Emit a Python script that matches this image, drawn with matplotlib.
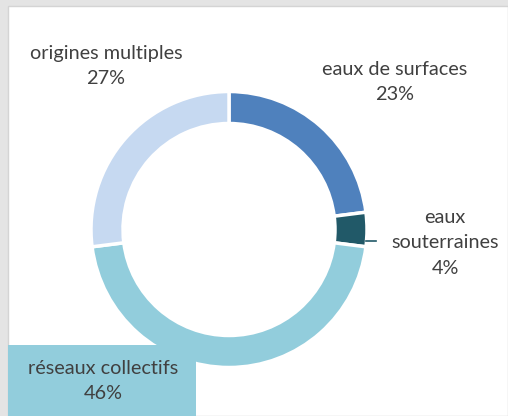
import matplotlib.pyplot as plt
from matplotlib.patches import Rectangle

# Données
categories = ["eaux de surfaces", "eaux\nsouterraines", "réseaux collectifs", "origines multiples"]
parts = [23, 4, 46, 27]
couleurs = ["#4F81BD", "#215968", "#92CDDC", "#C6D9F1"]

W, H = 508, 416
fig = plt.figure(figsize=(W / 100, H / 100), dpi=100, facecolor="#E4E4E4")
ax = fig.add_axes([0, 0, 1, 1])
ax.set_facecolor("#E4E4E4")

# fond blanc de la zone du graphique
ax.add_patch(Rectangle((8, 0), W - 8, H - 6, facecolor="white",
                       edgecolor="#D4D4D4", linewidth=1, zorder=0))

# anneau
cx, cy = 229, H - 229.5
ax.pie(parts, colors=couleurs, radius=138, center=(cx, cy), startangle=90,
       counterclock=False, frame=True,
       wedgeprops=dict(width=32, edgecolor="white", linewidth=2.5))

txt = dict(ha="center", va="center", fontsize=14.3, color="#404040",
           family=["Lato", "DejaVu Sans"], linespacing=1.6)

ax.text(106, H - 66, f"origines multiples\n{parts[3]}%", **txt)
ax.text(395, H - 82, f"eaux de surfaces\n{parts[0]}%", **txt)
ax.text(445, H - 243, f"{categories[1]}\n{parts[1]}%", **txt)

# trait de rappel
ax.plot([366, 376], [H - 241, H - 241], color="#215968", linewidth=1.2)

# étiquette avec fond pour réseaux collectifs
ax.add_patch(Rectangle((8, 0), 188, H - 345, facecolor="#92CDDC",
                       edgecolor="none", zorder=3))
ax.text(103, H - 381, f"{categories[2]}\n{parts[2]}%", zorder=4, **txt)

ax.set_xlim(0, W)
ax.set_ylim(0, H)
ax.set_aspect("equal")
ax.axis("off")

fig.savefig("out.png", dpi=100, facecolor=fig.get_facecolor())
